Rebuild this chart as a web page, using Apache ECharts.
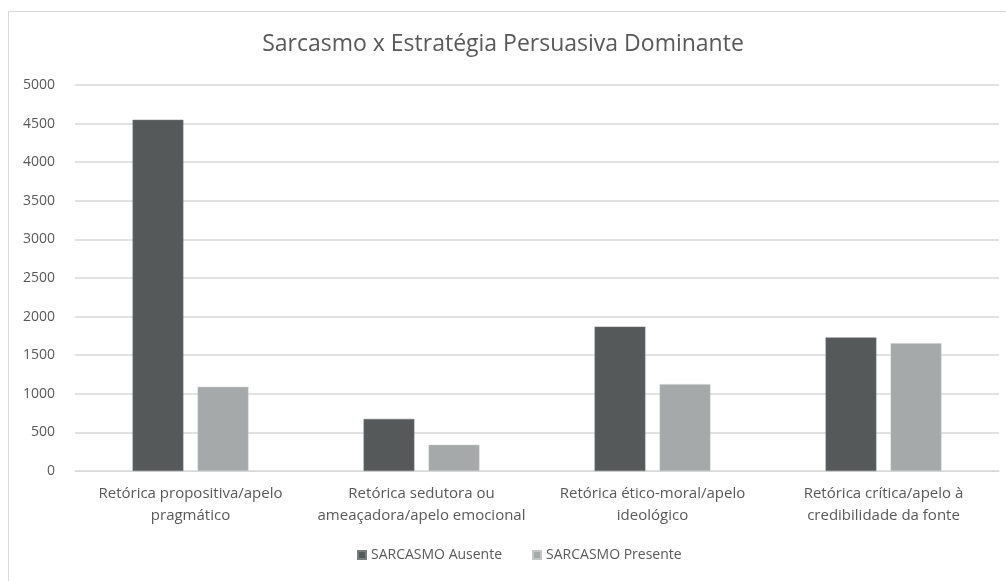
<!DOCTYPE html>
<html>
<head>
<meta charset="utf-8">
<script src="https://cdn.jsdelivr.net/npm/echarts@6/dist/echarts.min.js"></script>
<style>
  html, body { margin: 0; padding: 0; background: #fff; }
  #chart { width: 1006px; height: 581px; }
</style>
</head>
<body>
<div id="chart"></div>
<script>
// categorias (eixo x) e séries
const categories = [
  'Retórica propositiva/apelo\npragmático',
  'Retórica sedutora ou\nameaçadora/apelo emocional',
  'Retórica ético-moral/apelo\nideológico',
  'Retórica crítica/apelo à\ncredibilidade da fonte'
]
const seriesNames = ['SARCASMO Ausente', 'SARCASMO Presente']
const ausente = [4550, 675, 1870, 1730]
const presente = [1090, 340, 1125, 1655]

const fontFamily = '"Open Sans", "Noto Sans", sans-serif'
const textColor = '#595959'

const chart = echarts.init(document.getElementById('chart'), null, {renderer: 'canvas'})
chart.setOption({
  animation: false,
  backgroundColor: '#fff',
  textStyle: {fontFamily: fontFamily, color: textColor},
  title: {
    text: 'Sarcasmo x Estratégia Persuasiva Dominante',
    left: 'center',
    top: 28,
    textStyle: {fontSize: 23, fontWeight: 'normal', color: textColor, fontFamily: fontFamily}
  },
  graphic: [{
    type: 'rect',
    shape: {x: 8.5, y: 11.5, width: 1010, height: 580},
    style: {fill: 'none', stroke: '#d9d9d9', lineWidth: 1},
    silent: true
  }],
  grid: {left: 75, right: 7, top: 85, bottom: 110},
  legend: {
    bottom: 14,
    left: 352,
    itemWidth: 8,
    itemHeight: 8,
    itemGap: 30,
    icon: 'rect',
    textStyle: {fontSize: 14, color: textColor, fontFamily: fontFamily},
    data: seriesNames
  },
  xAxis: {
    type: 'category',
    data: categories,
    axisLine: {show: true, lineStyle: {color: '#d9d9d9'}},
    axisTick: {show: false},
    axisLabel: {interval: 0, fontSize: 15, color: textColor, lineHeight: 22, margin: 12}
  },
  yAxis: {
    type: 'value',
    min: 0,
    max: 5000,
    interval: 500,
    axisLine: {show: false},
    axisTick: {show: false},
    axisLabel: {fontSize: 14, color: textColor, margin: 20, formatter: (v) => String(v)},
    splitLine: {lineStyle: {color: '#d9d9d9', width: 1.5}}
  },
  series: [
    {
      name: seriesNames[0],
      type: 'bar',
      data: ausente,
      barWidth: '22%',
      barGap: '28%',
      itemStyle: {color: '#55595a', borderColor: '#7a7d7e', borderWidth: 0.5}
    },
    {
      name: seriesNames[1],
      type: 'bar',
      data: presente,
      barWidth: '22%',
      itemStyle: {color: '#a6a9a9', borderColor: '#c4c6c6', borderWidth: 0.5}
    }
  ]
})
</script>
</body>
</html>
